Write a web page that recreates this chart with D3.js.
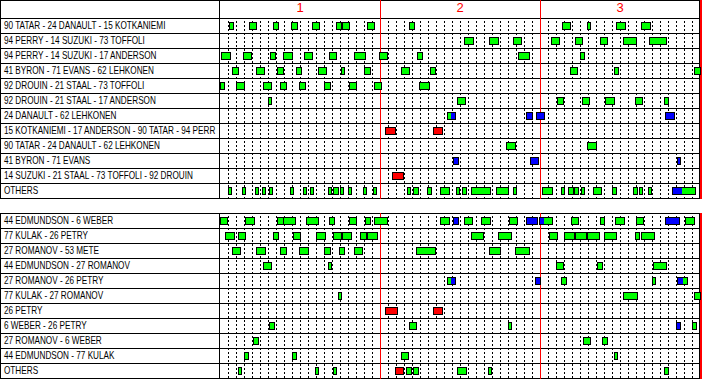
<!DOCTYPE html>
<html>
<head>
<meta charset="utf-8">
<script src="https://cdn.jsdelivr.net/npm/d3@7"></script>
<style>
  html, body { margin: 0; padding: 0; background: #fff; }
  svg { display: block; }
</style>
</head>
<body>
<div id="chart"></div>
<script>
// data: shifts in game minutes. [start, end, color, splitAt, color2]
const periodLabels = ["1", "2", "3"];

const topLabels = [
    "90 TATAR - 24 DANAULT - 15 KOTKANIEMI",
    "94 PERRY - 14 SUZUKI - 73 TOFFOLI",
    "94 PERRY - 14 SUZUKI - 17 ANDERSON",
    "41 BYRON - 71 EVANS - 62 LEHKONEN",
    "92 DROUIN - 21 STAAL - 73 TOFFOLI",
    "92 DROUIN - 21 STAAL - 17 ANDERSON",
    "24 DANAULT - 62 LEHKONEN",
    "15 KOTKANIEMI - 17 ANDERSON - 90 TATAR - 94 PERR",
    "90 TATAR - 24 DANAULT - 62 LEHKONEN",
    "41 BYRON - 71 EVANS",
    "14 SUZUKI - 21 STAAL - 73 TOFFOLI - 92 DROUIN",
    "OTHERS"
];

const topShifts = [
    [[1.16,1.66],[3.66,4.5],[6.66,7.29],[8.91,9.66],[11.54,12.41],[14.54,15.16],[15.25,16.16],[18.41,19.29],[23.66,24.29],[42.79,43.71],[45.88,46.21],[49.5,50.59],[52.66,53.71]],
    [[30.54,31.59],[33.66,34.71],[36.66,37.59],[41.41,42.34],[44.41,45.21],[47.54,48.34],[50.41,51.96],[53.66,55.71]],
    [[0.12,1.25],[2.91,3.84],[6.25,6.84],[7.91,8.96],[10.54,11.46],[13.62,14.46],[16.79,18.09],[19.91,20.84],[24.59,25.25],[37.25,38.59],[45,45.46]],
    [[1.5,2.21],[4.5,5.46],[7.12,7.84],[9.5,10.09],[12.29,13.21],[15.12,15.46],[18.04,18.71],[22.62,23.59],[26.25,26.84],[43.75,44.59],[49.25,49.71],[59.25,60]],
    [[0,0.46],[2.04,3],[5.41,6.34],[7.54,8.21],[9.91,10.59],[13.04,13.71],[16.12,16.96],[19.29,20.09],[24.91,26.09]],
    [[6,6.34],[29.66,30.59],[42.16,42.84],[45.29,46.09],[48.09,49.21],[51.91,52.75],[55.54,55.96]],
    [[28.41,29.37,"g",28.75,"b"],[38.25,38.96,"b"],[39.5,40.46,"b"],[55.66,56.71,"b"]],
    [[20.66,21.84,"r"],[26.66,27.71,"r"]],
    [[35.75,36.84],[45.88,47]],
    [[29.09,29.71,"b"],[38.79,39.71,"b"],[57.12,57.54,"b"]],
    [[21.54,22.84,"r"]],
    [[1.04,1.34],[2.79,3.16],[4.41,4.71],[5.29,5.59],[6.16,6.46],[8.79,9.09],[10.41,10.71],[11.29,11.66],[13.54,13.84],[14.16,14.71],[15.04,15.41],[16.04,16.34],[17.91,18.21],[19.16,19.54],[23.41,23.79],[24.16,24.71],[25.91,26.41],[27.54,28.66],[29.54,29.84],[30.29,30.71],[31.41,33.79],[34.54,36.04],[36.62,36.96],[40.25,41.54],[42.62,42.96],[43.54,44.09],[44.25,44.71],[45.12,45.54],[46.62,47.66],[49.04,49.46],[51.62,52.09],[52.37,52.79],[53.5,53.84],[56.54,59.41,"b",57.6,"g"]]
];

const bottomLabels = [
    "44 EDMUNDSON - 6 WEBER",
    "77 KULAK - 26 PETRY",
    "27 ROMANOV - 53 METE",
    "44 EDMUNDSON - 27 ROMANOV",
    "27 ROMANOV - 26 PETRY",
    "77 KULAK - 27 ROMANOV",
    "26 PETRY",
    "6 WEBER - 26 PETRY",
    "27 ROMANOV - 6 WEBER",
    "44 EDMUNDSON - 77 KULAK",
    "OTHERS"
];

const bottomShifts = [
    [[0,0.84],[3.16,4.29],[7.16,7.84],[7.84,9.34],[10.79,12.21],[13.62,14.21],[16.16,16.96],[18.16,18.71],[19.29,20.84],[27.54,28.66],[29.16,29.79,"b",29.62,"g"],[30.54,31.54],[32.66,33.79],[36.16,37.16],[38.29,39.59,"b"],[39.91,41.46,"b",40.34,"g"],[43.91,44.71],[47.54,47.96],[49.41,50.54],[52.04,52.84],[55.66,57.34,"b"],[58.16,59.21]],
    [[0.66,1.71],[2.29,3.16],[6.66,7.29],[9.16,10.04],[12.04,13.16],[14.16,15.09],[15.29,16.34],[17.54,18.29],[18.41,19.59],[31.41,32.84],[34.79,36.34],[41.16,42.16],[43.04,44.21],[44.41,45.71],[45.91,47.41],[48.04,49.46],[51.91,52.34],[52.66,54.21]],
    [[1.5,2.46],[4.54,5.59],[7.54,8.21],[9.91,10.96],[13.04,13.71],[14.91,15.46],[16.79,17.71],[24.54,26.84],[33.66,34.96],[36.91,38.59]],
    [[5.41,6.34],[13.5,13.84],[42.04,42.84],[47.12,47.71],[54.16,55.71]],
    [[28.41,29.37,"g",28.75,"b"],[39.41,40.04,"b"],[42.62,43.21],[54,54.34],[57.12,58.34,"b",57.71,"g"]],
    [[14.75,15.09],[50.37,52.09],[59.29,60]],
    [[20.66,22.09,"r"],[26.66,27.71,"r"]],
    [[6.12,6.79],[23.66,24.46],[36,36.34],[57.04,57.5,"b"],[59.04,59.46]],
    [[4.09,4.75],[45.34,46.21],[47.75,48.34]],
    [[3,3.5],[9,9.5],[22.62,23.5],[49.25,49.59]],
    [[2.25,2.62],[11.87,12.25],[14.09,14.46],[21.87,22.84,"r"],[23.25,23.87],[24.12,24.75],[29.62,30.75],[33.5,33.84],[55.54,56]]
];

const colors = { g: "#00ff00", b: "#0000ff", r: "#ff0000" };

// layout
const width = 702, height = 379;
const labelW = 219, rowH = 15;
const topStart = 18, bottomStart = 213;

const x = d3.scaleLinear().domain([0, 60]).range([220, 700]);
const px = t => Math.round(x(t));

const svg = d3.select("#chart").append("svg")
    .attr("width", width)
    .attr("height", height)
    .attr("shape-rendering", "crispEdges");

// header row of the top panel
svg.append("line")
    .attr("x1", 0).attr("x2", 700)
    .attr("y1", 0.5).attr("y2", 0.5)
    .attr("stroke", "#000");

svg.append("g")
    .selectAll("text")
    .data(periodLabels)
    .join("text")
    .attr("x", (d, i) => x(i * 20 + 10))
    .attr("y", 12)
    .attr("text-anchor", "middle")
    .attr("font-family", "'Liberation Sans', Arial, sans-serif")
    .attr("font-size", 13)
    .attr("fill", "#ff0000")
    .text(d => d);

function drawPanel(labels, shifts, y0, frameTop) {
    const n = labels.length;
    const y1 = y0 + n * rowH;
    const g = svg.append("g");

    // minute dotted lines
    const minutes = d3.range(1, 60).filter(m => m % 20 !== 0);
    g.append("g")
        .selectAll("line")
        .data(minutes)
        .join("line")
        .attr("x1", d => px(d) + 0.5)
        .attr("x2", d => px(d) + 0.5)
        .attr("y1", y0 + 3)
        .attr("y2", y1)
        .attr("stroke", "#000")
        .attr("stroke-dasharray", "2,2");

    // row separators
    g.append("g")
        .selectAll("line")
        .data(d3.range(n + 1))
        .join("line")
        .attr("x1", 0).attr("x2", 700)
        .attr("y1", d => y0 + d * rowH + 0.5)
        .attr("y2", d => y0 + d * rowH + 0.5)
        .attr("stroke", "#000");

    // frame verticals
    g.append("g")
        .selectAll("line")
        .data([0.5, labelW + 0.5, 699.5])
        .join("line")
        .attr("x1", d => d).attr("x2", d => d)
        .attr("y1", frameTop).attr("y2", y1 + 1)
        .attr("stroke", "#000");

    // period ends
    g.append("g")
        .selectAll("line")
        .data([20, 40, 60])
        .join("line")
        .attr("x1", d => px(d) + 0.5).attr("x2", d => px(d) + 0.5)
        .attr("y1", frameTop).attr("y2", y1 + 1)
        .attr("stroke", "#ff0000")
        .attr("stroke-width", d => d === 60 ? 2 : 1);

    // line labels (narrowed to match the condensed look)
    g.append("g")
        .selectAll("text")
        .data(labels)
        .join("text")
        .attr("transform", (d, i) => `translate(4,${y0 + i * rowH + 11}) scale(0.82,1)`)
        .attr("font-family", "'Liberation Sans', Arial, sans-serif")
        .attr("font-size", 10)
        .attr("fill", "#000")
        .text(d => d);

    // shifts
    const flat = [];
    shifts.forEach((row, i) => row.forEach(s => flat.push({ row: i, s: s })));

    const blocks = g.append("g")
        .selectAll("g")
        .data(flat)
        .join("g");

    // first color
    blocks.append("rect")
        .attr("x", d => px(d.s[0]) + 0.5)
        .attr("y", d => y0 + d.row * rowH + 4.5)
        .attr("width", d => Math.max(1, px(d.s[1]) - px(d.s[0])))
        .attr("height", 7)
        .attr("fill", d => colors[d.s[2] || "g"]);

    // second color, if the shift changes strength
    blocks.filter(d => d.s.length > 3)
        .append("rect")
        .attr("x", d => px(d.s[3]) + 0.5)
        .attr("y", d => y0 + d.row * rowH + 4.5)
        .attr("width", d => px(d.s[1]) - px(d.s[3]))
        .attr("height", 7)
        .attr("fill", d => colors[d.s[4]]);

    // outline
    blocks.append("rect")
        .attr("x", d => px(d.s[0]) + 0.5)
        .attr("y", d => y0 + d.row * rowH + 4.5)
        .attr("width", d => Math.max(1, px(d.s[1]) - px(d.s[0])))
        .attr("height", 7)
        .attr("fill", "none")
        .attr("stroke", "#000");
}

drawPanel(topLabels, topShifts, topStart, 0);
drawPanel(bottomLabels, bottomShifts, bottomStart, bottomStart);
</script>
</body>
</html>
